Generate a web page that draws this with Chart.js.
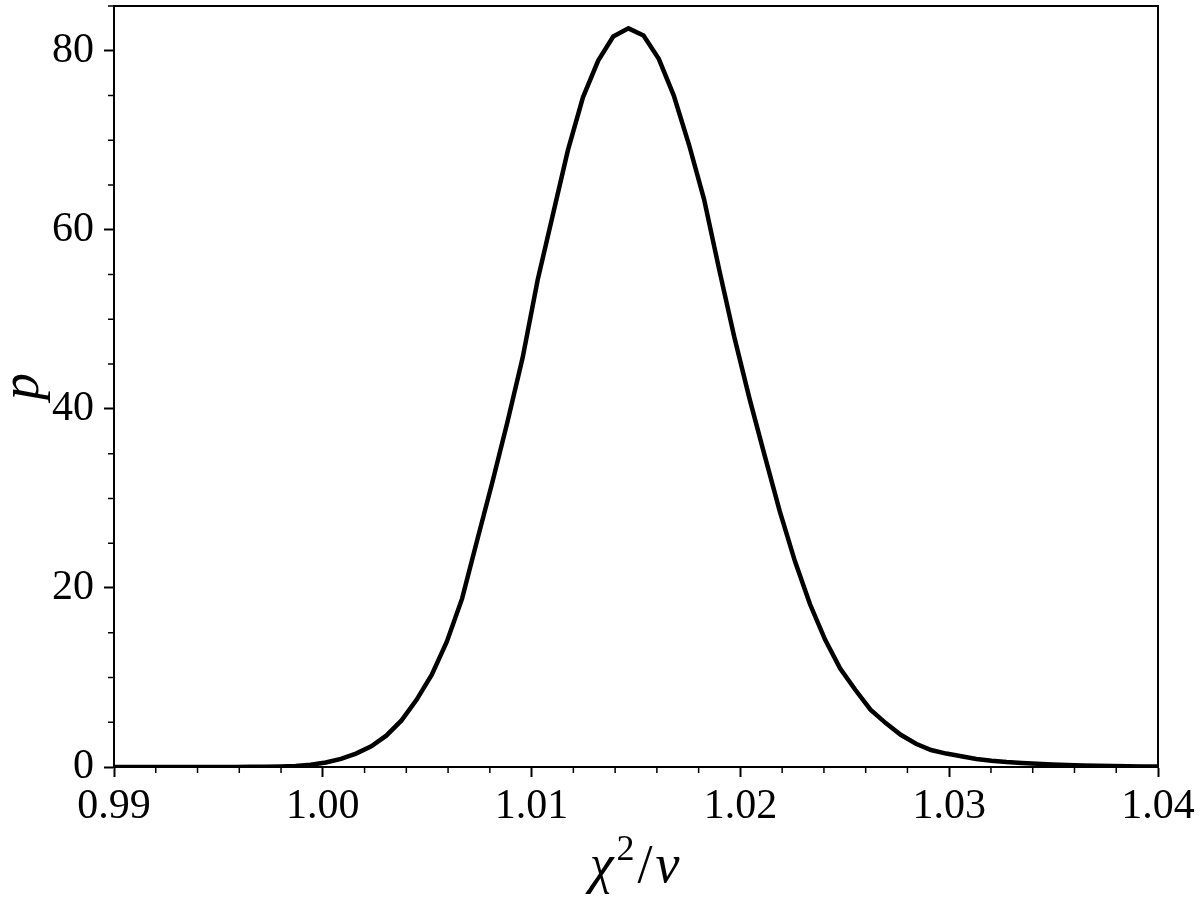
<!DOCTYPE html>
<html>
<head>
<meta charset="utf-8">
<script src="https://cdn.jsdelivr.net/npm/chart.js@4"></script>
<style>
  html, body { margin: 0; padding: 0; background: #fff; }
  #wrap { width: 1200px; height: 899px; }
</style>
</head>
<body>
<div id="wrap"><canvas id="pdfChart"></canvas></div>
<script>
// reduced chi-square grid (70 points, 0.99 .. 1.04)
const chi2nu = [
  0.99000, 0.99072, 0.99145, 0.99217, 0.99290, 0.99362, 0.99435, 0.99507, 0.99580, 0.99652,
  0.99725, 0.99797, 0.99870, 0.99942, 1.00014, 1.00087, 1.00159, 1.00232, 1.00304, 1.00377,
  1.00449, 1.00522, 1.00594, 1.00667, 1.00739, 1.00812, 1.00884, 1.00957, 1.01029, 1.01101,
  1.01174, 1.01246, 1.01319, 1.01391, 1.01464, 1.01536, 1.01609, 1.01681, 1.01754, 1.01826,
  1.01899, 1.01971, 1.02043, 1.02116, 1.02188, 1.02261, 1.02333, 1.02406, 1.02478, 1.02551,
  1.02623, 1.02696, 1.02768, 1.02841, 1.02913, 1.02986, 1.03058, 1.03130, 1.03203, 1.03275,
  1.03348, 1.03420, 1.03493, 1.03565, 1.03638, 1.03710, 1.03783, 1.03855, 1.03928, 1.04000
];
// probability density
const density = [
  0.00, 0.00, 0.00, 0.00, 0.00, 0.00, 0.00, 0.00, 0.01, 0.02,
  0.03, 0.06, 0.12, 0.25, 0.50, 0.90, 1.50, 2.30, 3.50, 5.20,
  7.50, 10.3, 14.0, 18.8, 25.3, 31.8, 38.5, 45.7, 54.4, 61.6,
  68.9, 74.8, 78.9, 81.6, 82.5, 81.7, 79.1, 75.0, 69.5, 63.4,
  55.5, 48.0, 41.2, 34.8, 28.6, 23.0, 18.2, 14.2, 11.0, 8.6,
  6.4, 4.9, 3.6, 2.6, 1.9, 1.5, 1.2, 0.9, 0.7, 0.55,
  0.45, 0.35, 0.28, 0.22, 0.17, 0.13, 0.10, 0.08, 0.06, 0.05
];
const xTicks = [0.99, 1.00, 1.01, 1.02, 1.03, 1.04];
const yTicks = [0, 20, 40, 60, 80];
const xMinor = [0.992, 0.994, 0.996, 0.998, 1.002, 1.004, 1.006, 1.008, 1.012, 1.014, 1.016, 1.018,
                1.022, 1.024, 1.026, 1.028, 1.032, 1.034, 1.036, 1.038];
const yMinor = [5, 10, 15, 25, 30, 35, 45, 50, 55, 65, 70, 75, 85];

const serif = "'Liberation Serif', 'DejaVu Serif', serif";

// box around the plot + minor tick marks (matplotlib look) + x label with superscript
const frameAndMinor = {
    id: "frameAndMinor",
    afterDraw(chart) {
        const { ctx, chartArea: a, scales } = chart;
        ctx.save();
        ctx.strokeStyle = "#000";
        ctx.lineWidth = 2;
        ctx.strokeRect(a.left, a.top, a.right - a.left, a.bottom - a.top);
        ctx.lineWidth = 1.5;
        ctx.beginPath();
        xMinor.forEach(v => {
            const px = scales.x.getPixelForValue(v);
            ctx.moveTo(px, a.bottom);
            ctx.lineTo(px, a.bottom + 6);
        });
        yMinor.forEach(v => {
            if (v > scales.y.max) return;
            const py = scales.y.getPixelForValue(v);
            ctx.moveTo(a.left, py);
            ctx.lineTo(a.left - 6, py);
        });
        ctx.stroke();

        // x axis label: chi^2 / nu
        const parts = [
            { t: "χ", f: `italic 54px ${serif}`, dy: 0 },
            { t: "2", f: `36px ${serif}`, dy: -22 },
            { t: "/", f: `54px ${serif}`, dy: 0 },
            { t: "ν", f: `italic 54px ${serif}`, dy: 0 }
        ];
        let total = 0;
        parts.forEach(p => { ctx.font = p.f; p.w = ctx.measureText(p.t).width; total += p.w + 3; });
        let cx = (a.left + a.right) / 2 - total / 2;
        const base = 882;
        ctx.fillStyle = "#000";
        ctx.textBaseline = "alphabetic";
        ctx.textAlign = "left";
        parts.forEach(p => {
            ctx.font = p.f;
            ctx.fillText(p.t, cx, base + p.dy);
            cx += p.w + 3;
        });
        ctx.restore();
    }
};

const ctx = document.getElementById("pdfChart").getContext("2d");
new Chart(ctx, {
    type: "line",
    data: {
        datasets: [{
            data: chi2nu.map((x, i) => ({ x: x, y: density[i] })),
            borderColor: "#000",
            borderWidth: 4.5,
            fill: false,
            tension: 0,
            pointRadius: 0
        }]
    },
    options: {
        responsive: true,
        maintainAspectRatio: false,
        animation: false,
        layout: { padding: { top: 6, right: 42, left: 0, bottom: 0 } },
        scales: {
            x: {
                type: "linear",
                min: 0.99,
                max: 1.04,
                afterBuildTicks: s => { s.ticks = xTicks.map(v => ({ value: v })); },
                afterFit: s => { s.height = 132; s.paddingLeft = 0; s.paddingRight = 0; },
                grid: { drawOnChartArea: false, tickLength: 10, tickWidth: 2, tickColor: "#000" },
                border: { color: "#000", width: 2 },
                ticks: {
                    color: "#000",
                    padding: 5,
                    maxRotation: 0,
                    font: { family: serif, size: 42 },
                    callback: v => Number(v).toFixed(2)
                }
            },
            y: {
                min: 0,
                max: 85,
                afterBuildTicks: s => { s.ticks = yTicks.map(v => ({ value: v })); },
                afterFit: s => { s.width = 114; s.paddingTop = 0; s.paddingBottom = 0; },
                grid: { drawOnChartArea: false, tickLength: 10, tickWidth: 2, tickColor: "#000" },
                border: { color: "#000", width: 2 },
                ticks: {
                    color: "#000",
                    padding: 10,
                    font: { family: serif, size: 42 }
                },
                title: {
                    display: true,
                    text: "p",
                    color: "#000",
                    font: { family: serif, size: 54, style: "italic", lineHeight: 0.9 },
                    padding: { top: 0, bottom: 0 }
                }
            }
        },
        plugins: {
            legend: { display: false },
            tooltip: { enabled: false }
        }
    },
    plugins: [frameAndMinor]
});
</script>
</body>
</html>
